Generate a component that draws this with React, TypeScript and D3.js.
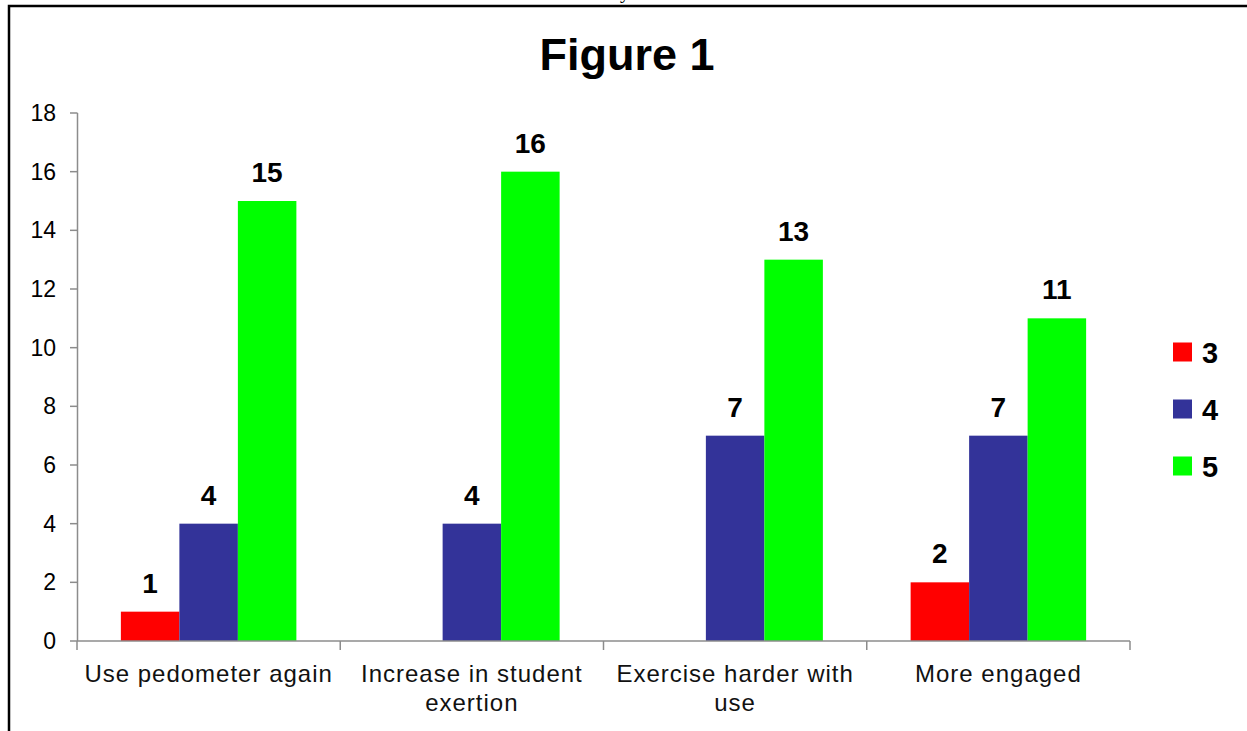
import * as d3 from "d3";

const categories = [
  "Use pedometer again",
  "Increase in student exertion",
  "Exercise harder with use",
  "More engaged",
];
// how Excel wrapped the category labels
const categoryLines = [
  ["Use pedometer again"],
  ["Increase in student", "exertion"],
  ["Exercise harder with", "use"],
  ["More engaged"],
];
const seriesNames = ["3", "4", "5"];
const values3 = [1, 0, 0, 2];
const values4 = [4, 4, 7, 7];
const values5 = [15, 16, 13, 11];
const seriesColors = ["#ff0000", "#333399", "#00ff00"];
const yTicks = [0, 2, 4, 6, 8, 10, 12, 14, 16, 18];

const W = 1247;
const H = 731;
const FONT = "'Liberation Sans', Arial, sans-serif";

export default function App(): JSX.Element {
  const seriesValues = [values3, values4, values5];

  const x0 = d3.scaleBand<string>().domain(categories).range([77, 1130]);
  const x1 = d3
    .scaleBand<string>()
    .domain(seriesNames)
    .range([0, x0.bandwidth()])
    .paddingInner(0)
    .paddingOuter(0.75);
  const y = d3.scaleLinear().domain([0, 18]).range([641, 113]);

  const axisColor = "#8c8c8c";
  const boundaries = categories.map((c) => x0(c) ?? 0).concat([x0.range()[1]]);

  return (
    <div style={{ position: "fixed", left: 0, top: 0, background: "#fff" }}>
      <svg width={W} height={H} style={{ display: "block" }} fontFamily={FONT}>
        <rect width={W} height={H} fill="#fff" />
        {/* tail of the text line above the figure */}
        <text x={620} y={-2} fontFamily="'Liberation Serif', serif" fontSize={20}>
          y
        </text>
        <path d={`M9,${H} V6 H${W}`} fill="none" stroke="#000" strokeWidth={2.5} />

        <text x={627} y={70} textAnchor="middle" fontSize={45} fontWeight="bold">
          Figure 1
        </text>

        {/* y axis */}
        <line x1={77.5} x2={77.5} y1={y(18)} y2={y(0)} stroke={axisColor} strokeWidth={1.5} />
        {yTicks.map((t) => (
          <g key={t}>
            <line x1={70} x2={77.5} y1={y(t)} y2={y(t)} stroke={axisColor} strokeWidth={1.5} />
            <text
              x={56}
              y={y(t)}
              dy="0.35em"
              textAnchor="end"
              fontSize={23}
              fill="#000"
            >
              {t}
            </text>
          </g>
        ))}

        {/* bars */}
        {categories.map((c, ci) => (
          <g key={c} transform={`translate(${x0(c)},0)`}>
            {seriesNames.map((s, si) => {
              const v = seriesValues[si][ci];
              if (!v) return null;
              const bx = x1(s) ?? 0;
              return (
                <g key={s}>
                  <rect
                    x={bx}
                    y={y(v)}
                    width={x1.bandwidth()}
                    height={y(0) - y(v)}
                    fill={seriesColors[si]}
                  />
                  <text
                    x={bx + x1.bandwidth() / 2}
                    y={y(v) - 19}
                    textAnchor="middle"
                    fontSize={28}
                    fontWeight="bold"
                  >
                    {v}
                  </text>
                </g>
              );
            })}
          </g>
        ))}

        {/* x axis */}
        <line x1={77} x2={1130} y1={y(0)} y2={y(0)} stroke={axisColor} strokeWidth={1.5} />
        {boundaries.map((b, i) => (
          <line
            key={i}
            x1={b}
            x2={b}
            y1={y(0)}
            y2={y(0) + 9}
            stroke={axisColor}
            strokeWidth={1.5}
          />
        ))}
        {categories.map((c, ci) => (
          <text
            key={c}
            x={(x0(c) ?? 0) + x0.bandwidth() / 2}
            textAnchor="middle"
            fontSize={24}
            letterSpacing={1}
            fill="#111"
          >
            {categoryLines[ci].map((line, li) => (
              <tspan key={li} x={(x0(c) ?? 0) + x0.bandwidth() / 2} y={682 + li * 29}>
                {line}
              </tspan>
            ))}
          </text>
        ))}

        {/* legend */}
        {seriesNames.map((s, si) => {
          const cy = 352 + si * 57;
          return (
            <g key={s}>
              <rect x={1173} y={cy - 9.5} width={19} height={19} fill={seriesColors[si]} />
              <text x={1202} y={cy + 10.5} fontSize={29} fontWeight="bold">
                {s}
              </text>
            </g>
          );
        })}
      </svg>
    </div>
  );
}
